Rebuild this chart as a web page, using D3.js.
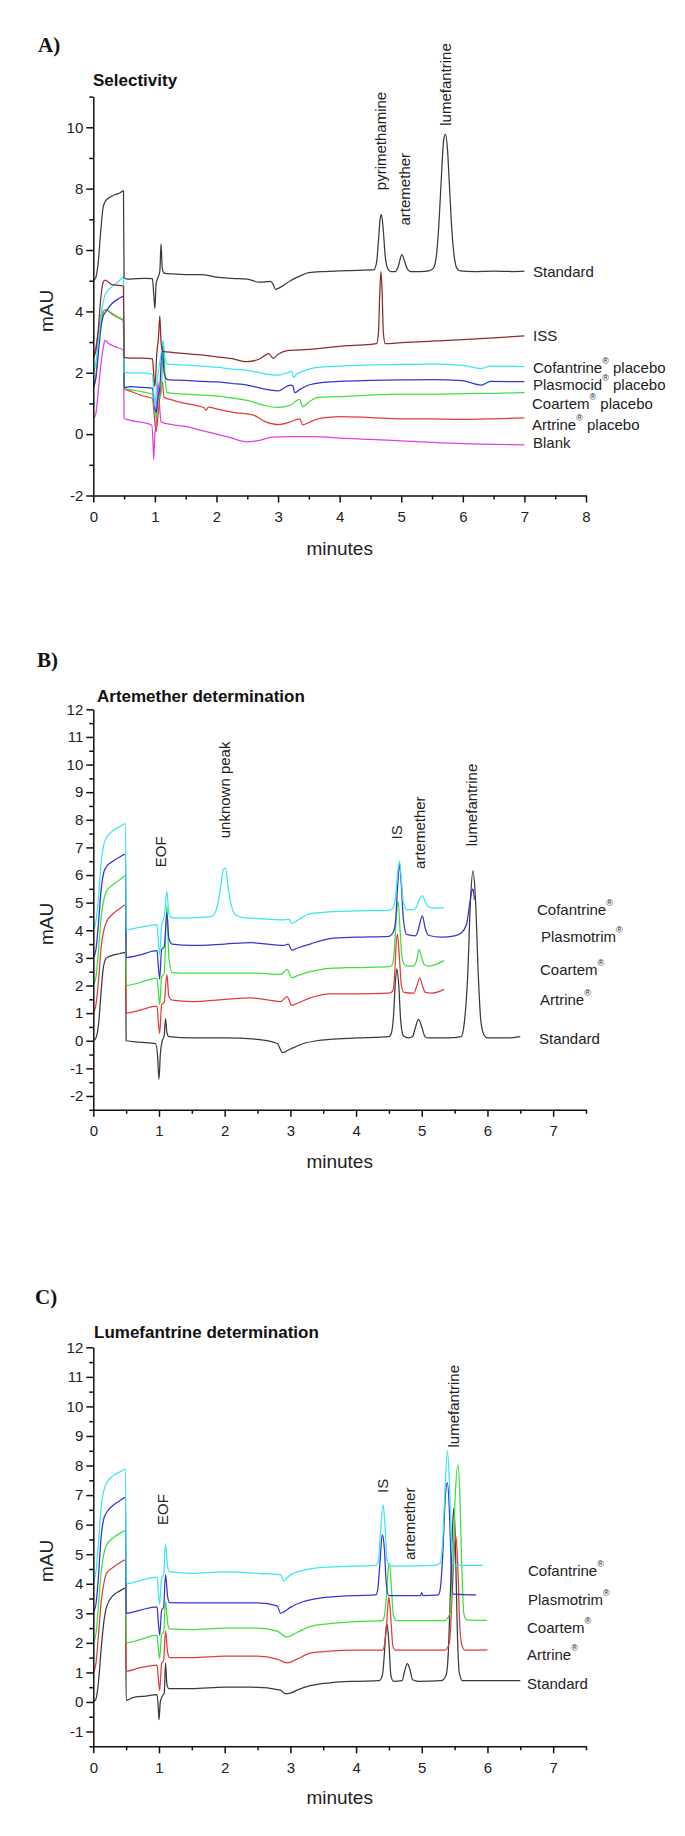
<!DOCTYPE html>
<html><head><meta charset="utf-8">
<script src="https://cdn.jsdelivr.net/npm/d3@7"></script>
<style>
body{margin:0;background:#fff}
svg{display:block}
text{font-family:"Liberation Sans",Arial,sans-serif;fill:#222}
</style>
</head><body><svg id="c" width="685" height="1836"></svg>
<script>
// ---------------- DATA (time in minutes, signal in mAU) ----------------
// Panel A – Selectivity
const selStandard = [[0,5.0],[0.04,5.1],[0.08,5.6],[0.12,6.6],[0.16,7.4],[0.2,7.6],[0.27,7.72],[0.35,7.8],[0.42,7.85],[0.49,7.93],[0.5,5.1],[0.55,5.05],[0.7,5.07],[0.85,5.08],[0.96,5.07],[0.98,4.6],[1.0,4.1],[1.02,4.9],[1.05,5.1],[1.08,5.3],[1.1,6.2],[1.12,5.4],[1.15,5.25],[1.3,5.22],[1.5,5.2],[1.75,5.2],[2.0,5.12],[2.25,5.08],[2.5,5.05],[2.7,4.95],[2.88,4.98],[2.92,4.88],[2.96,4.72],[3.05,4.8],[3.2,5.0],[3.35,5.15],[3.5,5.26],[3.75,5.3],[4.0,5.32],[4.3,5.34],[4.55,5.35],[4.6,5.6],[4.63,6.3],[4.66,7.05],[4.68,7.15],[4.71,6.6],[4.74,5.8],[4.78,5.4],[4.83,5.3],[4.9,5.3],[4.95,5.45],[5.01,5.85],[5.06,5.6],[5.1,5.38],[5.16,5.3],[5.3,5.3],[5.45,5.32],[5.52,5.4],[5.57,5.8],[5.61,6.8],[5.65,8.3],[5.69,9.6],[5.72,9.78],[5.75,9.3],[5.78,8.2],[5.82,6.7],[5.86,5.8],[5.9,5.42],[5.96,5.32],[6.2,5.3],[6.5,5.31],[6.8,5.3],[7.0,5.31]];
const selISS = [[0,2.5],[0.04,2.7],[0.08,3.4],[0.12,4.4],[0.16,4.95],[0.19,5.02],[0.25,4.95],[0.3,4.87],[0.4,4.85],[0.49,4.82],[0.5,2.5],[0.6,2.48],[0.8,2.48],[0.96,2.45],[0.98,2.0],[1.0,1.55],[1.03,2.6],[1.06,3.2],[1.08,3.85],[1.1,3.0],[1.13,2.7],[1.3,2.66],[1.5,2.62],[1.75,2.58],[2.0,2.52],[2.25,2.46],[2.5,2.36],[2.7,2.45],[2.85,2.62],[2.92,2.47],[3.0,2.6],[3.15,2.72],[3.5,2.76],[4.0,2.86],[4.3,2.9],[4.6,2.95],[4.63,3.3],[4.65,4.5],[4.67,5.3],[4.69,4.6],[4.71,3.3],[4.74,2.95],[5.0,2.98],[5.5,3.03],[6.0,3.08],[6.5,3.14],[7.0,3.2]];
const selCofantrine = [[0,2.0],[0.04,2.3],[0.08,3.0],[0.12,3.8],[0.16,4.3],[0.2,4.58],[0.3,4.8],[0.4,4.95],[0.49,5.12],[0.5,2.02],[0.6,2.0],[0.8,2.0],[0.96,1.95],[0.98,1.4],[1.0,0.9],[1.03,1.6],[1.06,2.1],[1.1,2.6],[1.13,3.06],[1.16,2.5],[1.2,2.28],[1.5,2.25],[1.75,2.22],[2.0,2.18],[2.25,2.12],[2.5,2.08],[2.75,1.98],[3.0,1.92],[3.15,2.0],[3.22,2.05],[3.25,1.85],[3.3,1.95],[3.45,2.08],[3.6,2.17],[4.0,2.22],[4.5,2.26],[5.0,2.27],[5.5,2.28],[6.0,2.24],[6.3,2.14],[6.45,2.22],[7.0,2.2]];
const selPlasmocid = [[0,1.5],[0.04,1.8],[0.08,2.6],[0.12,3.4],[0.16,3.85],[0.2,3.98],[0.3,4.25],[0.4,4.4],[0.49,4.49],[0.5,1.52],[0.6,1.55],[0.8,1.52],[0.96,1.5],[0.99,1.0],[1.02,0.7],[1.05,1.2],[1.08,1.5],[1.12,2.9],[1.15,2.0],[1.2,1.78],[1.5,1.75],[1.75,1.72],[2.0,1.7],[2.25,1.65],[2.5,1.6],[2.75,1.48],[3.0,1.41],[3.2,1.6],[3.24,1.58],[3.27,1.35],[3.35,1.45],[3.5,1.6],[3.7,1.68],[4.0,1.72],[4.5,1.75],[5.0,1.77],[5.5,1.78],[6.0,1.74],[6.3,1.6],[6.45,1.72],[7.0,1.71]];
const selCoartem = [[0,1.5],[0.04,1.9],[0.08,2.8],[0.12,3.6],[0.16,3.95],[0.2,4.06],[0.3,3.95],[0.4,3.82],[0.49,3.71],[0.5,1.5],[0.6,1.45],[0.8,1.38],[0.96,1.3],[0.99,0.9],[1.02,0.5],[1.05,1.1],[1.1,1.3],[1.14,2.9],[1.17,1.7],[1.2,1.35],[1.5,1.3],[1.75,1.27],[2.0,1.25],[2.25,1.18],[2.5,1.1],[2.75,0.95],[3.0,0.87],[3.2,0.95],[3.35,1.13],[3.4,0.9],[3.5,1.05],[3.65,1.2],[4.0,1.22],[4.5,1.27],[5.0,1.3],[5.5,1.3],[6.0,1.32],[6.5,1.33],[7.0,1.35]];
const selArtrine = [[0,2.5],[0.04,2.8],[0.08,3.3],[0.12,3.8],[0.16,4.0],[0.2,4.05],[0.3,3.92],[0.4,3.8],[0.49,3.7],[0.5,1.48],[0.6,1.4],[0.8,1.25],[0.96,1.16],[0.99,0.6],[1.02,0.08],[1.05,0.6],[1.08,1.2],[1.12,1.7],[1.15,1.2],[1.3,1.1],[1.5,1.0],[1.7,0.92],[1.8,0.86],[1.83,0.78],[1.87,0.88],[2.0,0.82],[2.3,0.7],[2.6,0.62],[2.8,0.4],[3.0,0.31],[3.2,0.4],[3.35,0.5],[3.4,0.3],[3.5,0.38],[3.7,0.52],[4.0,0.57],[4.5,0.54],[5.0,0.5],[5.5,0.5],[6.0,0.48],[6.5,0.5],[7.0,0.53]];
const selBlank = [[0,0.5],[0.04,0.65],[0.08,1.4],[0.12,2.2],[0.16,2.8],[0.19,3.06],[0.25,2.95],[0.35,2.85],[0.49,2.73],[0.5,0.52],[0.6,0.45],[0.8,0.38],[0.95,0.29],[0.97,-0.3],[0.98,-0.82],[1.0,0.0],[1.02,0.3],[1.05,1.7],[1.08,0.8],[1.1,0.4],[1.3,0.3],[1.5,0.25],[1.7,0.15],[2.0,0.0],[2.2,-0.1],[2.5,-0.25],[2.7,-0.2],[2.9,-0.1],[3.2,-0.08],[3.6,-0.08],[4.0,-0.13],[4.5,-0.17],[5.0,-0.22],[5.5,-0.27],[6.0,-0.31],[6.5,-0.33],[7.0,-0.35]];

// Panel B – Artemether determination
const artStandard = [[0,0.0],[0.04,0.1],[0.08,0.6],[0.12,1.8],[0.15,2.6],[0.2,3.0],[0.3,3.1],[0.4,3.15],[0.49,3.2],[0.5,0.0],[0.7,-0.05],[0.95,-0.1],[0.98,-0.6],[1.0,-1.4],[1.02,-0.5],[1.05,0.0],[1.08,0.2],[1.1,0.8],[1.12,0.3],[1.15,0.15],[1.5,0.1],[2.0,0.1],[2.5,0.05],[2.8,-0.1],[2.88,-0.43],[3.0,-0.3],[3.2,-0.1],[3.4,0.0],[3.6,0.05],[4.0,0.1],[4.5,0.15],[4.54,0.3],[4.57,0.9],[4.6,2.2],[4.62,2.6],[4.65,2.0],[4.68,0.7],[4.72,0.18],[4.8,0.1],[4.86,0.15],[4.9,0.45],[4.95,0.77],[5.0,0.5],[5.05,0.15],[5.1,0.1],[5.4,0.1],[5.6,0.15],[5.65,0.7],[5.7,2.4],[5.74,5.0],[5.78,6.15],[5.82,5.0],[5.86,2.4],[5.9,0.7],[5.95,0.2],[6.0,0.1],[6.3,0.1],[6.5,0.15]];
const artCofantrine = [[0,4.0],[0.04,4.3],[0.08,5.2],[0.12,6.5],[0.16,7.1],[0.2,7.35],[0.3,7.6],[0.4,7.75],[0.49,7.86],[0.5,4.02],[0.7,4.1],[0.97,4.2],[0.99,3.6],[1.01,3.1],[1.04,4.2],[1.08,4.5],[1.12,5.4],[1.15,4.6],[1.2,4.45],[1.5,4.45],[1.8,4.5],[1.88,4.8],[1.94,5.6],[1.98,6.2],[2.01,6.25],[2.05,5.6],[2.1,4.9],[2.17,4.55],[2.3,4.45],[2.5,4.42],[2.9,4.38],[2.98,4.4],[3.02,4.25],[3.1,4.35],[3.3,4.6],[3.5,4.65],[4.0,4.7],[4.5,4.72],[4.56,4.8],[4.6,5.2],[4.63,6.0],[4.66,6.5],[4.69,5.8],[4.72,5.0],[4.77,4.75],[4.88,4.75],[4.93,4.9],[4.97,5.15],[5.01,5.25],[5.05,5.05],[5.1,4.85],[5.2,4.8],[5.34,4.82]];
const artPlasmotrim = [[0,3.0],[0.04,3.3],[0.08,4.3],[0.12,5.5],[0.16,6.1],[0.2,6.3],[0.3,6.5],[0.4,6.65],[0.49,6.76],[0.5,3.02],[0.7,3.1],[0.97,3.26],[0.99,2.7],[1.01,2.23],[1.04,3.3],[1.08,3.4],[1.12,4.63],[1.15,3.7],[1.2,3.5],[1.5,3.45],[2.0,3.5],[2.4,3.55],[2.9,3.45],[2.97,3.5],[3.02,3.28],[3.1,3.35],[3.3,3.5],[3.6,3.7],[4.0,3.75],[4.5,3.78],[4.56,3.9],[4.6,4.3],[4.63,5.5],[4.66,6.4],[4.69,5.6],[4.72,4.4],[4.77,3.85],[4.9,3.8],[4.94,3.95],[4.97,4.25],[5.01,4.52],[5.05,4.1],[5.1,3.82],[5.3,3.75],[5.5,3.8],[5.6,3.9],[5.68,4.2],[5.72,4.8],[5.76,5.4],[5.78,5.5],[5.8,5.1]];
const artCoartem = [[0,2.0],[0.04,2.3],[0.08,3.3],[0.12,4.5],[0.16,5.1],[0.2,5.4],[0.3,5.65],[0.4,5.82],[0.49,5.97],[0.5,2.0],[0.7,2.1],[0.97,2.27],[0.99,1.8],[1.01,1.3],[1.04,2.3],[1.08,2.45],[1.12,4.9],[1.15,3.0],[1.2,2.47],[1.5,2.45],[2.0,2.45],[2.5,2.45],[2.85,2.4],[2.95,2.58],[3.02,2.28],[3.1,2.35],[3.3,2.5],[3.4,2.55],[3.6,2.62],[4.0,2.65],[4.5,2.68],[4.55,2.75],[4.58,3.2],[4.61,4.4],[4.64,5.05],[4.67,4.0],[4.7,3.0],[4.75,2.72],[4.88,2.7],[4.92,2.9],[4.96,3.3],[5.0,3.0],[5.04,2.75],[5.1,2.7],[5.2,2.75],[5.34,2.9]];
const artArtrine = [[0,1.0],[0.04,1.3],[0.08,2.2],[0.12,3.4],[0.16,4.0],[0.2,4.3],[0.3,4.6],[0.4,4.78],[0.49,4.92],[0.5,1.0],[0.7,1.1],[0.97,1.25],[0.99,0.7],[1.01,0.26],[1.04,1.3],[1.08,1.4],[1.12,2.4],[1.15,1.6],[1.2,1.47],[1.5,1.42],[2.0,1.5],[2.4,1.55],[2.85,1.42],[2.95,1.6],[3.02,1.28],[3.1,1.35],[3.3,1.55],[3.4,1.62],[3.6,1.7],[4.0,1.7],[4.5,1.72],[4.56,1.8],[4.59,2.5],[4.61,3.5],[4.63,3.86],[4.66,3.0],[4.69,2.0],[4.73,1.75],[4.88,1.72],[4.92,1.95],[4.97,2.27],[5.01,2.0],[5.05,1.76],[5.15,1.72],[5.34,1.86]];

// Panel C – Lumefantrine determination
const lumStandard = [[0,0.0],[0.04,0.1],[0.08,0.7],[0.12,1.8],[0.16,2.7],[0.2,3.2],[0.3,3.6],[0.4,3.75],[0.49,3.85],[0.5,0.05],[0.6,0.15],[0.8,0.2],[0.97,0.25],[0.99,-0.2],[1.0,-0.6],[1.02,0.0],[1.05,0.2],[1.08,0.3],[1.1,1.32],[1.12,0.6],[1.15,0.45],[1.5,0.45],[2.0,0.5],[2.4,0.5],[2.85,0.4],[2.92,0.28],[3.0,0.3],[3.1,0.4],[3.3,0.55],[3.6,0.65],[4.0,0.7],[4.35,0.72],[4.4,0.9],[4.43,1.6],[4.45,2.3],[4.47,2.65],[4.5,2.0],[4.53,0.9],[4.57,0.7],[4.7,0.72],[4.74,1.05],[4.78,1.3],[4.82,1.1],[4.86,0.75],[4.95,0.7],[5.3,0.72],[5.37,0.9],[5.4,1.5],[5.44,4.0],[5.47,6.0],[5.49,6.56],[5.51,5.5],[5.54,2.5],[5.57,1.0],[5.62,0.72],[6.0,0.72],[6.5,0.72]];
const lumCofantrine = [[0,4.05],[0.04,4.4],[0.08,5.4],[0.12,6.6],[0.16,7.15],[0.2,7.4],[0.3,7.65],[0.4,7.78],[0.49,7.88],[0.5,4.0],[0.7,4.1],[0.97,4.22],[0.99,3.7],[1.01,3.3],[1.04,4.2],[1.07,4.3],[1.1,5.34],[1.13,4.6],[1.16,4.41],[1.5,4.35],[2.0,4.4],[2.5,4.35],[2.85,4.3],[2.9,4.1],[2.95,4.2],[3.0,4.3],[3.2,4.45],[3.5,4.55],[4.0,4.6],[4.3,4.62],[4.34,4.8],[4.37,5.7],[4.41,6.68],[4.44,6.0],[4.47,4.8],[4.52,4.6],[5.2,4.62],[5.28,4.7],[5.32,5.5],[5.35,7.0],[5.39,8.5],[5.42,7.5],[5.45,5.5],[5.48,4.7],[5.52,4.62],[5.93,4.62]];
const lumPlasmotrim = [[0,3.02],[0.04,3.3],[0.08,4.3],[0.12,5.6],[0.16,6.2],[0.2,6.4],[0.3,6.65],[0.4,6.8],[0.49,6.92],[0.5,3.0],[0.7,3.1],[0.97,3.22],[0.99,2.7],[1.01,2.26],[1.04,3.1],[1.07,3.2],[1.1,4.31],[1.13,3.6],[1.16,3.36],[1.5,3.35],[2.0,3.35],[2.5,3.35],[2.8,3.25],[2.85,3.0],[2.9,3.05],[3.0,3.2],[3.2,3.4],[3.4,3.5],[3.6,3.55],[4.0,3.6],[4.3,3.62],[4.33,3.8],[4.36,4.6],[4.4,5.66],[4.43,5.2],[4.46,4.0],[4.5,3.6],[4.98,3.6],[5.0,3.7],[5.02,3.6],[5.25,3.62],[5.28,3.8],[5.32,5.0],[5.36,7.0],[5.39,7.42],[5.42,6.5],[5.45,4.5],[5.48,3.65],[5.83,3.62]];
const lumCoartem = [[0,2.0],[0.04,2.3],[0.08,3.3],[0.12,4.4],[0.16,5.0],[0.2,5.3],[0.3,5.55],[0.4,5.7],[0.49,5.8],[0.5,2.0],[0.7,2.1],[0.97,2.26],[0.99,1.8],[1.01,1.47],[1.04,2.3],[1.07,2.35],[1.1,3.4],[1.13,2.7],[1.16,2.47],[1.5,2.45],[2.0,2.5],[2.5,2.5],[2.8,2.4],[2.95,2.2],[3.1,2.35],[3.3,2.55],[3.6,2.65],[4.0,2.72],[4.4,2.75],[4.43,2.9],[4.46,3.5],[4.49,4.5],[4.51,4.68],[4.54,3.8],[4.57,2.9],[4.62,2.75],[5.35,2.75],[5.43,3.0],[5.47,4.5],[5.51,7.0],[5.55,8.03],[5.58,7.0],[5.61,4.5],[5.64,3.0],[5.68,2.78],[5.99,2.76]];
const lumArtrine = [[0,1.0],[0.04,1.3],[0.08,2.3],[0.12,3.4],[0.16,4.0],[0.2,4.35],[0.3,4.55],[0.4,4.7],[0.49,4.81],[0.5,1.04],[0.7,1.15],[0.97,1.25],[0.99,0.8],[1.01,0.39],[1.04,1.3],[1.07,1.4],[1.1,2.4],[1.13,1.7],[1.16,1.5],[1.5,1.5],[2.0,1.55],[2.5,1.55],[2.8,1.45],[2.95,1.32],[3.1,1.45],[3.3,1.65],[3.6,1.72],[4.0,1.75],[4.4,1.75],[4.43,1.9],[4.46,2.5],[4.49,3.4],[4.5,3.55],[4.53,2.8],[4.56,1.9],[4.6,1.75],[5.35,1.75],[5.42,2.0],[5.46,3.5],[5.5,5.3],[5.52,5.6],[5.55,4.5],[5.58,2.5],[5.62,1.85],[5.66,1.75],[6.0,1.76]];

// Tick values and labels
const xTicksA = [0,1,2,3,4,5,6,7,8];
const xMinorA = [0.5,1.5,2.5,3.5,4.5,5.5,6.5,7.5];
const yTicksA = [-2,0,2,4,6,8,10];
const yMinorA = [-1,1,3,5,7,9,11];
const xTicksBC = [0,1,2,3,4,5,6,7];
const xMinorBC = [0.5,1.5,2.5,3.5,4.5,5.5,6.5,7.5];
const yTicksB = [-2,-1,0,1,2,3,4,5,6,7,8,9,10,11,12];
const yMinorB = [-2.5,-1.5,-0.5,0.5,1.5,2.5,3.5,4.5,5.5,6.5,7.5,8.5,9.5,10.5,11.5];
const yTicksC = [-1,0,1,2,3,4,5,6,7,8,9,10,11,12];
const yMinorC = [-1.5,-0.5,0.5,1.5,2.5,3.5,4.5,5.5,6.5,7.5,8.5,9.5,10.5,11.5];

// Text
const panelLetters = ["A)","B)","C)"];
const panelTitles = ["Selectivity","Artemether determination","Lumefantrine determination"];
const seriesNamesA = [["Standard",""],["ISS",""],["Cofantrine","placebo"],["Plasmocid","placebo"],["Coartem","placebo"],["Artrine","placebo"],["Blank",""]];
const seriesNamesBC = [["Cofantrine",""],["Plasmotrim",""],["Coartem",""],["Artrine",""],["Standard",""]];
const peakNamesA = ["pyrimethamine","artemether","lumefantrine"];
const peakNamesB = ["EOF","unknown peak","IS","artemether","lumefantrine"];
const peakNamesC = ["EOF","IS","artemether","lumefantrine"];

// ---------------- STYLE / LAYOUT ----------------
const COL = {black:"#3a3a3a", brown:"#8a2b2b", cyan:"#3ce6ee", blue:"#3434d4", green:"#3ede3e", red:"#e23c3c", magenta:"#e040e0"};
const X0 = 93.3, X1 = 586;

const svg = d3.select("#c");

function drawPanel(cfg){
  const x = d3.scaleLinear().domain(cfg.xDomain).range([X0, X1]);
  const y = d3.scaleLinear().domain(cfg.yDomain).range([cfg.bottom, cfg.top]);
  const g = svg.append("g");

  // letter + title
  g.append("text").attr("x", cfg.letterX).attr("y", cfg.letterY)
    .style("font-family", '"Liberation Serif","Times New Roman",serif')
    .style("font-weight", "bold").style("font-size", "21px").style("fill","#111").text(cfg.letter);
  g.append("text").attr("x", cfg.titleX).attr("y", cfg.titleY)
    .style("font-weight", "bold").style("font-size", "17px").style("fill","#111").text(cfg.title);

  // traces
  const line = d3.line().x(d => x(d[0])).y(d => y(d[1])).curve(d3.curveMonotoneX);
  cfg.series.forEach(s => {
    g.append("path").attr("d", line(s.data)).attr("fill", "none")
      .attr("stroke", s.color).attr("stroke-width", 1.25).attr("stroke-linejoin","round");
  });

  // axes
  const fmt = d => String(d);
  const xa = g.append("g").attr("transform", `translate(0,${cfg.bottom})`)
    .call(d3.axisBottom(x).tickValues(cfg.xTicks).tickSize(7).tickSizeOuter(0).tickPadding(9).tickFormat(fmt));
  const xm = g.append("g").attr("transform", `translate(0,${cfg.bottom})`)
    .call(d3.axisBottom(x).tickValues(cfg.xMinor).tickSize(4).tickSizeOuter(0).tickFormat(""));
  const ya = g.append("g").attr("transform", `translate(${X0},0)`)
    .call(d3.axisLeft(y).tickValues(cfg.yTicks).tickSize(7).tickSizeOuter(0).tickPadding(3).tickFormat(fmt));
  const ym = g.append("g").attr("transform", `translate(${X0},0)`)
    .call(d3.axisLeft(y).tickValues(cfg.yMinor).tickSize(4).tickSizeOuter(0).tickFormat(""));
  [xm, ym].forEach(a => a.select(".domain").remove());
  [xa, xm, ya, ym].forEach(a => {
    a.selectAll("path,line").attr("stroke", "#111").attr("stroke-width", 1.5);
    a.selectAll("text").style("font-family", '"Liberation Sans",Arial,sans-serif').style("font-size", "15px").attr("fill", "#222");
  });

  // axis titles
  g.append("text").attr("x", (X0 + X1) / 2).attr("y", cfg.xTitleY).attr("text-anchor", "middle")
    .attr("dominant-baseline","central").style("font-size", "19px").text("minutes");
  g.append("text").attr("transform", `translate(46,${cfg.yTitleY}) rotate(-90)`).attr("text-anchor", "middle")
    .attr("dominant-baseline","central").style("font-size", "19px").text("mAU");

  // series labels
  cfg.labels.forEach(l => {
    const t = g.append("text").attr("x", l.x).attr("y", y(l.v)).attr("dominant-baseline", "central").style("font-size", "15px");
    t.append("tspan").text(l.name[0]);
    t.append("tspan").attr("dy", -6).style("font-size", "9px").text("®");
    if (l.name[1]) t.append("tspan").attr("dy", 6).text(" " + l.name[1]);
  });
  cfg.plainLabels.forEach(l => {
    g.append("text").attr("x", l.x).attr("y", y(l.v)).attr("dominant-baseline", "central").style("font-size", "15px").text(l.name);
  });

  // peak annotations (rotated)
  cfg.peaks.forEach(p => {
    g.append("text").attr("transform", `translate(${x(p.t)},${y(p.v)}) rotate(-90)`)
      .attr("dominant-baseline", "central").style("font-size", "15px").text(p.name);
  });
}

// Panel A
drawPanel({
  letter: panelLetters[0], letterX: 38, letterY: 52,
  title: panelTitles[0], titleX: 93, titleY: 86,
  xDomain: [0, 8], yDomain: [-2, 11], top: 96.6, bottom: 495.5,
  xTicks: xTicksA, xMinor: xMinorA, yTicks: yTicksA, yMinor: yMinorA,
  xTitleY: 548, yTitleY: 311,
  series: [
    {data: selBlank, color: COL.magenta},
    {data: selArtrine, color: COL.red},
    {data: selCoartem, color: COL.green},
    {data: selPlasmocid, color: COL.blue},
    {data: selCofantrine, color: COL.cyan},
    {data: selISS, color: COL.brown},
    {data: selStandard, color: COL.black}
  ],
  plainLabels: [
    {name: seriesNamesA[0][0], x: 533, v: 5.3},
    {name: seriesNamesA[1][0], x: 533, v: 3.2},
    {name: seriesNamesA[6][0], x: 533, v: -0.26}
  ],
  labels: [
    {name: seriesNamesA[2], x: 533, v: 2.2},
    {name: seriesNamesA[3], x: 533, v: 1.62},
    {name: seriesNamesA[4], x: 532, v: 1.03},
    {name: seriesNamesA[5], x: 532, v: 0.33}
  ],
  peaks: [
    {name: peakNamesA[0], t: 4.67, v: 7.95},
    {name: peakNamesA[1], t: 5.06, v: 6.8},
    {name: peakNamesA[2], t: 5.72, v: 10.05}
  ]
});

// Panel B
drawPanel({
  letter: panelLetters[1], letterX: 37, letterY: 667,
  title: panelTitles[1], titleX: 97, titleY: 702,
  xDomain: [0, 7.5], yDomain: [-2.5, 12], top: 709.3, bottom: 1109.8,
  xTicks: xTicksBC, xMinor: xMinorBC, yTicks: yTicksB, yMinor: yMinorB,
  xTitleY: 1161, yTitleY: 924,
  series: [
    {data: artStandard, color: COL.black},
    {data: artArtrine, color: COL.red},
    {data: artCoartem, color: COL.green},
    {data: artPlasmotrim, color: COL.blue},
    {data: artCofantrine, color: COL.cyan}
  ],
  plainLabels: [
    {name: seriesNamesBC[4][0], x: 539, v: 0.08}
  ],
  labels: [
    {name: seriesNamesBC[0], x: 537, v: 4.78},
    {name: seriesNamesBC[1], x: 541, v: 3.81},
    {name: seriesNamesBC[2], x: 540, v: 2.59},
    {name: seriesNamesBC[3], x: 540, v: 1.51}
  ],
  peaks: [
    {name: peakNamesB[0], t: 1.03, v: 6.28},
    {name: peakNamesB[1], t: 2.0, v: 7.33},
    {name: peakNamesB[2], t: 4.61, v: 7.29},
    {name: peakNamesB[3], t: 4.97, v: 6.22},
    {name: peakNamesB[4], t: 5.75, v: 7.04}
  ]
});

// Panel C
drawPanel({
  letter: panelLetters[2], letterX: 35, letterY: 1304,
  title: panelTitles[2], titleX: 94, titleY: 1338,
  xDomain: [0, 7.5], yDomain: [-1.5, 12], top: 1347.3, bottom: 1746.3,
  xTicks: xTicksBC, xMinor: xMinorBC, yTicks: yTicksC, yMinor: yMinorC,
  xTitleY: 1797, yTitleY: 1561,
  series: [
    {data: lumStandard, color: COL.black},
    {data: lumArtrine, color: COL.red},
    {data: lumCoartem, color: COL.green},
    {data: lumPlasmotrim, color: COL.blue},
    {data: lumCofantrine, color: COL.cyan}
  ],
  plainLabels: [
    {name: seriesNamesBC[4][0], x: 527, v: 0.61}
  ],
  labels: [
    {name: seriesNamesBC[0], x: 528, v: 4.45},
    {name: seriesNamesBC[1], x: 528, v: 3.5},
    {name: seriesNamesBC[2], x: 527, v: 2.53},
    {name: seriesNamesBC[3], x: 527, v: 1.61}
  ],
  peaks: [
    {name: peakNamesC[0], t: 1.05, v: 5.99},
    {name: peakNamesC[1], t: 4.4, v: 7.07},
    {name: peakNamesC[2], t: 4.81, v: 4.8},
    {name: peakNamesC[3], t: 5.49, v: 8.61}
  ]
});
</script></body></html>
